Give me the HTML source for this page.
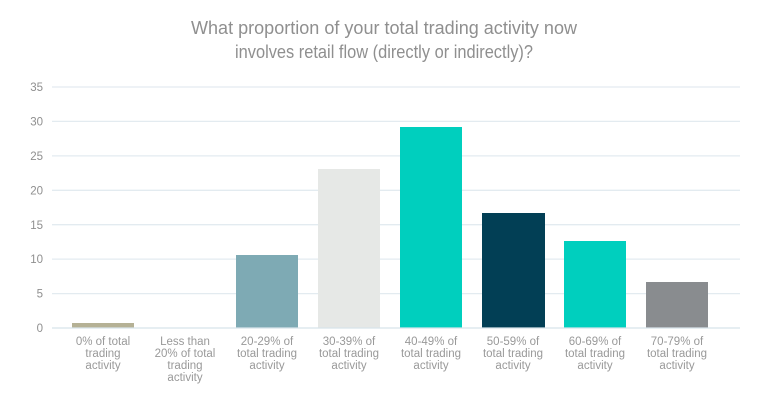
<!DOCTYPE html>
<html><head><meta charset="utf-8"><style>
html,body{margin:0;padding:0;background:#fff;}
svg{display:block;font-family:"Liberation Sans",sans-serif;}
</style></head><body>
<svg width="768" height="401" viewBox="0 0 768 401" xmlns="http://www.w3.org/2000/svg">
<g fill="#8f8f8f" font-size="18.5" text-anchor="middle">
<text x="384" y="34" textLength="386" lengthAdjust="spacingAndGlyphs">What proportion of your total trading activity now</text>
<text x="384" y="58" textLength="298" lengthAdjust="spacingAndGlyphs">involves retail flow (directly or indirectly)?</text>
</g>
<g stroke="#e3ebf0" stroke-width="1.3">
<line x1="52" x2="740" y1="87" y2="87"/><line x1="52" x2="740" y1="121.4" y2="121.4"/>
<line x1="52" x2="740" y1="155.9" y2="155.9"/><line x1="52" x2="740" y1="190.3" y2="190.3"/>
<line x1="52" x2="740" y1="224.7" y2="224.7"/><line x1="52" x2="740" y1="259.1" y2="259.1"/>
<line x1="52" x2="740" y1="293.6" y2="293.6"/>
</g>
<g fill="#8f8f8f" font-size="11.5" text-anchor="end">
<text x="43" y="91">35</text><text x="43" y="125.5">30</text><text x="43" y="160">25</text>
<text x="43" y="194.5">20</text><text x="43" y="229">15</text><text x="43" y="263">10</text>
<text x="43" y="297.5">5</text><text x="43" y="332">0</text>
</g>
<rect x="72" y="323" width="62" height="5" fill="#b5b195"/>
<rect x="236" y="255" width="62" height="73" fill="#7eaab4"/>
<rect x="318" y="169" width="62" height="159" fill="#e6e8e6"/>
<rect x="400" y="127" width="62" height="201" fill="#00cfbe"/>
<rect x="482" y="213" width="63" height="115" fill="#023f55"/>
<rect x="564" y="241" width="62" height="87" fill="#00cfbe"/>
<rect x="646" y="282" width="62" height="46" fill="#898c8f"/>
<line x1="52" x2="740" y1="328" y2="328" stroke="#d8e3ea" stroke-width="1.3"/>
<g fill="#999" font-size="11.5" text-anchor="middle">
<text x="103" y="345">0% of total</text><text x="103" y="357">trading</text><text x="103" y="369">activity</text>
<text x="185" y="345">Less than</text><text x="185" y="357">20% of total</text><text x="185" y="369">trading</text><text x="185" y="381">activity</text>
<text x="267" y="345">20-29% of</text><text x="267" y="357">total trading</text><text x="267" y="369">activity</text>
<text x="349" y="345">30-39% of</text><text x="349" y="357">total trading</text><text x="349" y="369">activity</text>
<text x="431" y="345">40-49% of</text><text x="431" y="357">total trading</text><text x="431" y="369">activity</text>
<text x="513" y="345">50-59% of</text><text x="513" y="357">total trading</text><text x="513" y="369">activity</text>
<text x="595" y="345">60-69% of</text><text x="595" y="357">total trading</text><text x="595" y="369">activity</text>
<text x="677" y="345">70-79% of</text><text x="677" y="357">total trading</text><text x="677" y="369">activity</text>
</g>
</svg>
</body></html>
